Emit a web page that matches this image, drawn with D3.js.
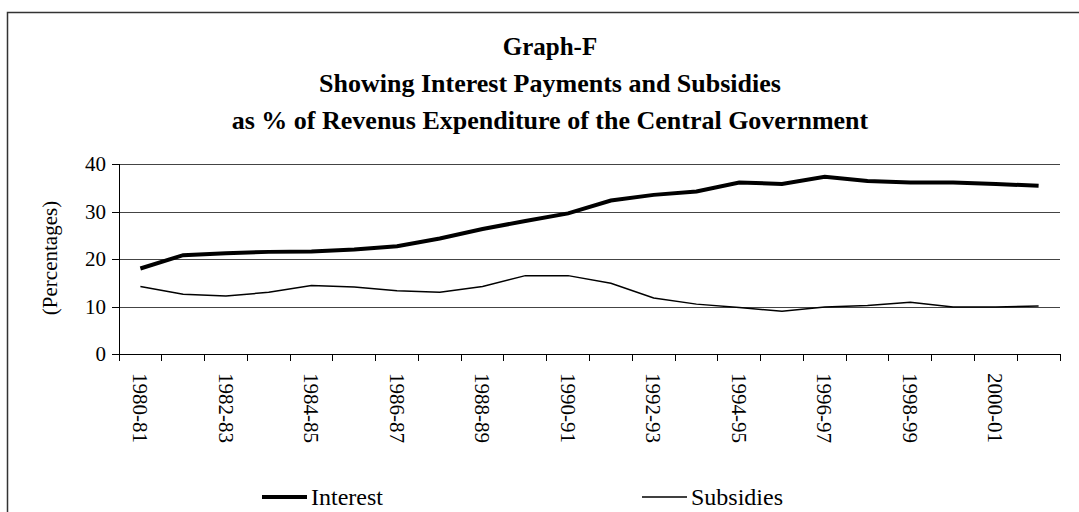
<!DOCTYPE html>
<html>
<head>
<meta charset="utf-8">
<script src="https://cdn.jsdelivr.net/npm/d3@7"></script>
<style>
  body { margin: 0; background: #fff; }
  text { font-family: "Liberation Serif", "Times New Roman", serif; fill: #000; }
</style>
</head>
<body>
<div id="chart"></div>
<script>
// Data
var years = ["1980-81", "1981-82", "1982-83", "1983-84", "1984-85", "1985-86", "1986-87", "1987-88",
  "1988-89", "1989-90", "1990-91", "1991-92", "1992-93", "1993-94", "1994-95", "1995-96",
  "1996-97", "1997-98", "1998-99", "1999-00", "2000-01", "2001-02"];
var interest = [18.0, 20.8, 21.2, 21.5, 21.6, 22.0, 22.7, 24.3, 26.3, 28.0, 29.6, 32.3,
  33.5, 34.2, 36.1, 35.8, 37.3, 36.4, 36.1, 36.1, 35.8, 35.4];
var subsidies = [14.2, 12.6, 12.2, 13.0, 14.4, 14.1, 13.3, 13.0, 14.2, 16.5, 16.5, 14.9,
  11.8, 10.5, 9.8, 9.0, 9.9, 10.2, 10.9, 9.9, 9.9, 10.1];
var yTicks = [0, 10, 20, 30, 40];
var titleLines = ["Graph-F", "Showing Interest Payments and Subsidies",
  "as % of Revenus Expenditure of the Central Government"];

//SVG area dimensions
var svgWidth = 1079;
var svgHeight = 512;

var margin = { top: 164, right: 19, bottom: 158, left: 119 };
var width = svgWidth - margin.left - margin.right;
var height = svgHeight - margin.top - margin.bottom;

var svg = d3.select("#chart")
  .append("svg")
  .attr("width", svgWidth)
  .attr("height", svgHeight);

// outer frame (runs off the right and bottom edges)
svg.append("rect")
  .attr("x", 7.5)
  .attr("y", 12.5)
  .attr("width", svgWidth + 20)
  .attr("height", svgHeight + 20)
  .attr("fill", "none")
  .attr("stroke", "#333")
  .attr("stroke-width", 1.5);

// title
svg.append("g").selectAll("text")
  .data(titleLines)
  .enter()
  .append("text")
  .attr("x", 550)
  .attr("y", (d, i) => 55 + i * 37)
  .attr("text-anchor", "middle")
  .attr("font-weight", "bold")
  .attr("font-size", (d, i) => i === 0 ? 25 : 26)
  .text(d => d);

var chartGroup = svg.append("g")
  .attr("transform", `translate(${margin.left}, ${margin.top})`);

//Scales
var xScale = d3.scaleBand()
  .domain(years)
  .range([0, width]);

var yScale = d3.scaleLinear()
  .domain([0, 40])
  .range([height, 0]);

// gridlines
chartGroup.append("g")
  .call(d3.axisLeft(yScale).tickValues(yTicks).tickSize(-width).tickFormat(""))
  .call(g => g.select(".domain").remove())
  .selectAll("line")
  .attr("stroke", "#444")
  .attr("shape-rendering", "crispEdges");

// y axis
var yAxis = chartGroup.append("g")
  .call(d3.axisLeft(yScale).tickValues(yTicks).tickSize(7).tickPadding(6));
yAxis.selectAll("text").attr("font-size", 21).attr("font-family", null);
yAxis.selectAll("line, path").attr("stroke", "#000").attr("shape-rendering", "crispEdges");

// x axis: ticks on category edges, labels on every other category
var xAxis = chartGroup.append("g")
  .attr("transform", `translate(0, ${height})`)
  .call(d3.axisBottom(xScale).tickSize(0).tickSizeOuter(0).tickFormat(""));
xAxis.select(".domain").attr("stroke", "#000").attr("shape-rendering", "crispEdges");
xAxis.selectAll(".tick").remove();

xAxis.append("g").selectAll("line")
  .data(years.concat(["end"]))
  .enter()
  .append("line")
  .attr("x1", (d, i) => i < years.length ? xScale(d) : width)
  .attr("x2", (d, i) => i < years.length ? xScale(d) : width)
  .attr("y1", 0)
  .attr("y2", 7)
  .attr("stroke", "#000")
  .attr("shape-rendering", "crispEdges");

xAxis.append("g")
  .attr("text-anchor", "start")
  .selectAll("text")
  .data(years.filter((d, i) => i % 2 === 0))
  .enter()
  .append("text")
  .attr("transform", d => `translate(${xScale(d) + xScale.bandwidth() / 2}, 19) rotate(90)`)
  .attr("dy", "0.35em")
  .attr("font-size", 21)
  .text(d => d);

// axis title
chartGroup.append("text")
  .attr("transform", "rotate(-90)")
  .attr("x", -94)
  .attr("y", -69)
  .attr("dy", "0.35em")
  .attr("text-anchor", "middle")
  .attr("font-size", 21)
  .text("(Percentages)");

//Lines
var line = d3.line()
  .x((d, i) => xScale(years[i]) + xScale.bandwidth() / 2)
  .y(d => yScale(d));

chartGroup.append("path")
  .datum(interest)
  .attr("d", line)
  .attr("fill", "none")
  .attr("stroke", "#000")
  .attr("stroke-width", 4);

chartGroup.append("path")
  .datum(subsidies)
  .attr("d", line)
  .attr("fill", "none")
  .attr("stroke", "#000")
  .attr("stroke-width", 1.5);

// legend
var legendItems = [
  { name: "Interest", x: 262, w: 4 },
  { name: "Subsidies", x: 642, w: 1.5 }
];
var legend = svg.append("g").selectAll("g")
  .data(legendItems)
  .enter()
  .append("g")
  .attr("transform", d => `translate(${d.x}, 497)`);

legend.append("line")
  .attr("x1", 0)
  .attr("x2", 45)
  .attr("stroke", "#000")
  .attr("stroke-width", d => d.w);

legend.append("text")
  .attr("x", 49)
  .attr("y", 8)
  .attr("font-size", 24)
  .text(d => d.name);
</script>
</body>
</html>
